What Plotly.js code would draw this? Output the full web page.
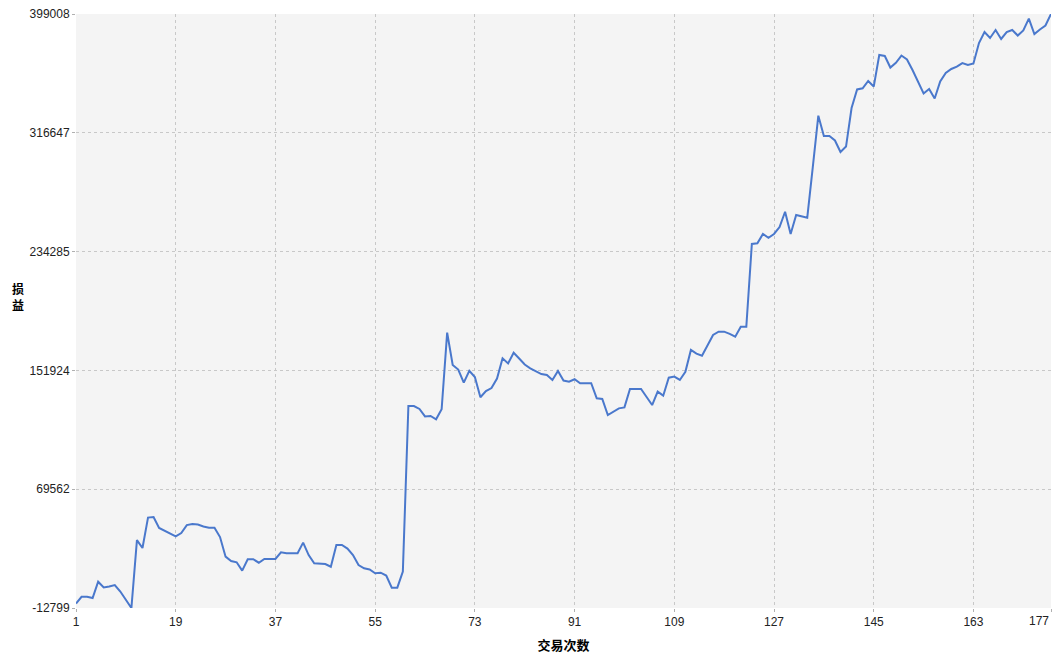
<!DOCTYPE html>
<html>
<head>
<meta charset="utf-8">
<script src="https://cdn.plot.ly/plotly-3.0.1.min.js"></script>
<style>
  html, body { margin: 0; padding: 0; background: #ffffff; }
  #chart { width: 1063px; height: 660px; }
</style>
</head>
<body>
<div id="chart"></div>
<script>
// 交易次数 (trade number) and cumulative 损益 (profit/loss)
const tradeNumbers = Array.from({length: 177}, (_, i) => i + 1);

const profitLoss = [
  -9700, -5000, -5000, -5900, 5400, 1400, 2100, 3100, -1400, -7300,
  -12799, 34300, 28800, 49900, 50300, 42700, 40600, 38500, 36800, 39200,
  44700, 45400, 45100, 43700, 42900, 42900, 36400, 22800, 19800, 18900,
  13100, 21000, 21000, 18600, 21200, 21200, 21200, 25800, 25100, 25100,
  25100, 32500, 23900, 18200, 17900, 17700, 15800, 30900, 30900, 28400,
  23900, 17000, 14700, 13900, 11300, 11700, 9700, 1300, 1300, 12400,
  127200, 127200, 125200, 120000, 120300, 118000, 125000, 178100, 155700, 152500,
  143400, 151700, 147300, 133300, 137600, 139700, 146300, 160300, 156800, 164200,
  160200, 156000, 153400, 151200, 149400, 148700, 145300, 151500, 144900, 144100,
  145800, 143000, 143200, 143000, 132600, 132100, 121000, 123100, 125600, 126300,
  139000, 139000, 139000, 133500, 127900, 137200, 134400, 146900, 147600, 145300,
  151000, 166100, 163600, 162100, 168800, 176500, 178800, 178800, 177200, 175300,
  182200, 182200, 239600, 240000, 246500, 243900, 246500, 251300, 261900, 246500,
  259700, 259000, 257800, 292900, 328500, 314400, 314400, 311300, 303300, 307100,
  333800, 346700, 347500, 352600, 348700, 370600, 369900, 361900, 365200, 370200,
  367500, 360200, 352600, 343900, 347000, 340400, 352200, 358100, 360900, 362500,
  365000, 363700, 364700, 378900, 386500, 382400, 387900, 381700, 386500, 387900,
  384100, 387600, 395800, 385100, 388300, 391000, 399008
];

const xTickValues = [1, 19, 37, 55, 73, 91, 109, 127, 145, 163, 177];
const yTickValues = [-12799, 69562, 151924, 234285, 316647, 399008];
const yTickLabels = ["-12799", "69562", "151924", "234285", "316647", "399008"];

const xTitle = "交易次数";
const yTitle = "损益";

const tickFont = {family: "Liberation Sans, DejaVu Sans, sans-serif", size: 12, color: "#222222"};
const titleFont = {family: "Noto Sans CJK SC, sans-serif", size: 13, color: "#000000", weight: "bold"};
const yTitleFont = {family: "Noto Sans CJK SC, sans-serif", size: 12, color: "#000000", weight: "bold"};

// the last x label is drawn right-aligned at its tick (inside the plot edge), as in the reference
const lastXTick = xTickValues[xTickValues.length - 1];
const xTickText = xTickValues.map(v => (v === lastXTick ? "" : String(v)));

const trace = {
  x: tradeNumbers,
  y: profitLoss,
  type: "scatter",
  mode: "lines",
  line: {color: "#4a78cc", width: 2},
  hoverinfo: "x+y"
};

const layout = {
  width: 1063,
  height: 660,
  margin: {l: 76, r: 12, t: 14, b: 52},
  paper_bgcolor: "#ffffff",
  plot_bgcolor: "#f4f4f4",
  showlegend: false,
  font: tickFont,
  xaxis: {
    range: [1, 177],
    tickmode: "array",
    tickvals: xTickValues,
    ticktext: xTickText,
    showgrid: true,
    gridcolor: "#c8c8c8",
    griddash: "3px,3px",
    gridwidth: 1,
    zeroline: false,
    showline: false,
    ticks: "outside",
    ticklen: 3,
    tickcolor: "#b0b0b0",
    tickfont: tickFont,
    title: {text: xTitle, font: titleFont, standoff: 12}
  },
  yaxis: {
    range: [-12799, 399008],
    tickmode: "array",
    tickvals: yTickValues,
    ticktext: yTickLabels,
    showgrid: true,
    gridcolor: "#c8c8c8",
    griddash: "3px,3px",
    gridwidth: 1,
    zeroline: false,
    showline: false,
    ticks: "outside",
    ticklen: 3,
    tickcolor: "#b0b0b0",
    tickfont: tickFont
  },
  annotations: [
    {
      // vertical stacked y-axis title, upright characters
      text: yTitle.split("").join("<br>"),
      xref: "paper", yref: "paper",
      x: -0.0595, y: 0.525,
      xanchor: "center", yanchor: "middle",
      showarrow: false,
      font: yTitleFont
    },
    {
      text: String(lastXTick),
      xref: "x", yref: "paper",
      x: lastXTick, y: -0.022,
      xanchor: "right", yanchor: "middle",
      showarrow: false,
      font: tickFont
    }
  ]
};

Plotly.newPlot("chart", [trace], layout, {displayModeBar: false, staticPlot: true});
</script>
</body>
</html>
